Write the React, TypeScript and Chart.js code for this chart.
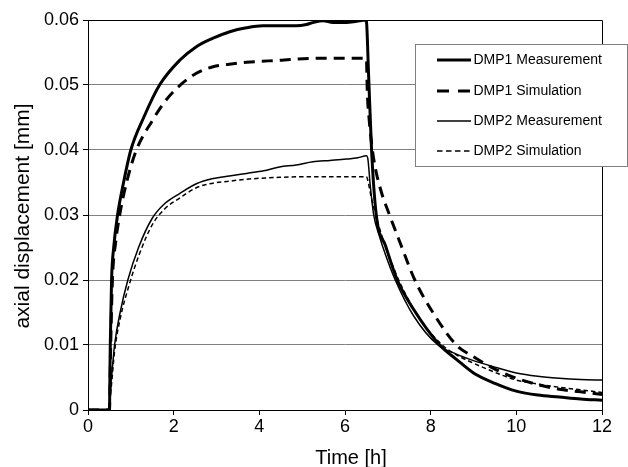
import React, { useEffect, useRef } from 'react';
import { Chart, registerables } from 'chart.js';

Chart.register(...registerables);

const FONT = "'Liberation Sans', Arial, Helvetica, sans-serif";

const seriesLabels = ['DMP1 Measurement', 'DMP1 Simulation', 'DMP2 Measurement', 'DMP2 Simulation'];

const dmp1MeasTime = [0, 0.5, 0.52, 0.55, 0.6, 0.69, 0.83, 1.0, 1.3, 1.67, 2.14, 2.53, 2.92, 3.31, 3.7, 4.08, 4.47, 4.86, 5.1, 5.25, 5.49, 5.72, 6.03, 6.27, 6.48, 6.5, 6.55, 6.62, 6.73, 6.95, 7.22, 7.6, 8.21, 8.6, 9.0, 9.5, 10, 10.5, 11, 11.5, 12];
const dmp1MeasValue = [0, 0, 0.01, 0.02, 0.025, 0.03, 0.035, 0.04, 0.045, 0.05, 0.0538, 0.0559, 0.0572, 0.0582, 0.0588, 0.0591, 0.0591, 0.0591, 0.0593, 0.0596, 0.0599, 0.0596, 0.0596, 0.0598, 0.06, 0.0598, 0.0517, 0.04, 0.03, 0.0252, 0.02, 0.0155, 0.01, 0.0078, 0.0057, 0.0041, 0.0029, 0.0023, 0.002, 0.0017, 0.0015];

const dmp1SimTime = [0, 0.5, 0.53, 0.57, 0.65, 0.74, 0.9, 1.13, 1.5, 1.8, 2.14, 2.53, 2.92, 3.3, 3.7, 4.47, 5.25, 6.0, 6.5, 6.52, 6.56, 6.62, 6.7, 6.85, 7.04, 7.3, 7.63, 8.1, 8.6, 9.0, 9.5, 10, 10.5, 11, 11.5, 12];
const dmp1SimValue = [0, 0, 0.01, 0.02, 0.026, 0.03, 0.035, 0.04, 0.0445, 0.0475, 0.0499, 0.0518, 0.0528, 0.0532, 0.0535, 0.0538, 0.0541, 0.0541, 0.0541, 0.049, 0.045, 0.041, 0.0375, 0.0335, 0.03, 0.0255, 0.02, 0.0145, 0.01, 0.0082, 0.0063, 0.0049, 0.0039, 0.0032, 0.0028, 0.0024];

const dmp2MeasTime = [0, 0.5, 0.52, 0.55, 0.62, 0.75, 0.93, 1.18, 1.5, 1.8, 2.14, 2.53, 2.92, 3.3, 3.7, 4.1, 4.47, 4.86, 5.25, 5.65, 6.03, 6.3, 6.5, 6.53, 6.59, 6.67, 6.8, 6.95, 7.16, 7.6, 8.17, 8.6, 9.0, 9.5, 10, 10.5, 11, 11.5, 12];
const dmp2MeasValue = [0, 0, 0.003, 0.005, 0.01, 0.015, 0.02, 0.025, 0.0295, 0.0318, 0.0333, 0.0348, 0.0356, 0.036, 0.0364, 0.0368, 0.0374, 0.0377, 0.0382, 0.0384, 0.0386, 0.0388, 0.0391, 0.0388, 0.0345, 0.03, 0.0268, 0.0238, 0.0202, 0.0145, 0.01, 0.0086, 0.0076, 0.0066, 0.0057, 0.0052, 0.0049, 0.0047, 0.0046];

const dmp2SimTime = [0, 0.5, 0.52, 0.55, 0.62, 0.75, 0.95, 1.2, 1.5, 1.8, 2.14, 2.53, 2.92, 3.3, 3.7, 4.47, 5.25, 6.0, 6.5, 6.53, 6.61, 6.72, 6.85, 7.0, 7.24, 7.7, 8.27, 8.6, 9.0, 9.5, 10, 10.5, 11, 11.5, 12];
const dmp2SimValue = [0, 0, 0.002, 0.004, 0.009, 0.014, 0.019, 0.024, 0.0285, 0.031, 0.0326, 0.0342, 0.0349, 0.0352, 0.0355, 0.0358, 0.0359, 0.0359, 0.0359, 0.0354, 0.0328, 0.03, 0.027, 0.0242, 0.0202, 0.0145, 0.01, 0.0085, 0.0072, 0.0058, 0.0046, 0.004, 0.0035, 0.0031, 0.0027];

const xTickLabels = ['0', '2', '4', '6', '8', '10', '12'];
const yTickLabels = ['0', '0.01', '0.02', '0.03', '0.04', '0.05', '0.06'];
const xAxisTitle = 'Time [h]';
const yAxisTitle = 'axial displacement [mm]';

const seriesStyles = [
  { width: 3, dash: [] as number[], legendDash: [] as number[] },
  { width: 3, dash: [11, 7], legendDash: [12, 9] },
  { width: 1.5, dash: [] as number[], legendDash: [] as number[] },
  { width: 1.5, dash: [4.5, 3], legendDash: [5.5, 3.5] },
];

const toPoints = (t: number[], v: number[]) => t.map((x, i) => ({ x, y: v[i] }));

const overlayPlugin = {
  id: 'overlay',
  afterDraw(chart: any) {
    const { ctx, chartArea: a } = chart;
    ctx.save();
    // frame top & right
    ctx.strokeStyle = '#000';
    ctx.lineWidth = 1;
    ctx.setLineDash([]);
    ctx.beginPath();
    ctx.moveTo(a.left, a.top + 0.5);
    ctx.lineTo(a.right + 0.5, a.top + 0.5);
    ctx.lineTo(a.right + 0.5, a.bottom);
    ctx.stroke();

    // axis titles
    ctx.fillStyle = '#000';
    ctx.font = `20px ${FONT}`;
    ctx.textAlign = 'center';
    ctx.textBaseline = 'alphabetic';
    ctx.fillText(xAxisTitle, (a.left + a.right) / 2 + 6, a.bottom + 54);
    ctx.save();
    ctx.translate(28.5, (a.top + a.bottom) / 2 + 1);
    ctx.rotate(-Math.PI / 2);
    ctx.font = `21px ${FONT}`;
    ctx.fillText(yAxisTitle, 0, 0);
    ctx.restore();

    // legend
    const lx = 415.5, ly = 44.5, lw = 212, lh = 122;
    ctx.fillStyle = '#fff';
    ctx.fillRect(lx, ly, lw, lh);
    ctx.strokeStyle = '#808080';
    ctx.lineWidth = 1;
    ctx.strokeRect(lx, ly, lw, lh);
    const rows = [60, 91, 121, 151];
    chart.data.datasets.forEach((ds: any, i: number) => {
      const y = rows[i];
      const st = seriesStyles[i];
      ctx.strokeStyle = '#000';
      ctx.lineWidth = st.width;
      ctx.setLineDash(st.legendDash);
      ctx.beginPath();
      ctx.moveTo(437, y);
      ctx.lineTo(471, y);
      ctx.stroke();
      ctx.setLineDash([]);
      ctx.fillStyle = '#000';
      ctx.font = `14px ${FONT}`;
      ctx.textAlign = 'left';
      ctx.textBaseline = 'middle';
      ctx.fillText(ds.label, 473.5, y);
    });
    ctx.restore();
  },
};

export default function App() {
  const canvasRef = useRef<HTMLCanvasElement | null>(null);

  useEffect(() => {
    const canvas = canvasRef.current;
    if (!canvas) return;
    const series = [
      toPoints(dmp1MeasTime, dmp1MeasValue),
      toPoints(dmp1SimTime, dmp1SimValue),
      toPoints(dmp2MeasTime, dmp2MeasValue),
      toPoints(dmp2SimTime, dmp2SimValue),
    ];
    const chart = new Chart(canvas, {
      type: 'line',
      data: {
        datasets: series.map((data, i) => ({
          label: seriesLabels[i],
          data,
          borderColor: '#000',
          backgroundColor: '#000',
          borderWidth: seriesStyles[i].width,
          borderDash: seriesStyles[i].dash,
          borderJoinStyle: 'round' as const,
          pointRadius: 0,
          pointHoverRadius: 0,
          fill: false,
          cubicInterpolationMode: 'monotone' as const,
        })),
      },
      options: {
        animation: false,
        responsive: false,
        maintainAspectRatio: false,
        events: [],
        layout: { padding: { left: 0, top: 20, right: 26, bottom: 0 } },
        plugins: {
          legend: { display: false },
          tooltip: { enabled: false },
          title: { display: false },
        },
        scales: {
          x: {
            type: 'linear',
            min: 0,
            max: 12,
            afterFit: (scale: any) => { scale.height = 57; },
            ticks: {
              stepSize: 2,
              color: '#000',
              padding: 1,
              maxRotation: 0,
              font: { family: FONT, size: 18 },
              callback: (_v: any, i: number) => xTickLabels[i],
            },
            grid: {
              drawOnChartArea: false,
              drawTicks: true,
              tickLength: 5,
              tickColor: '#000',
            },
            border: { display: true, color: '#000', width: 1 },
          },
          y: {
            type: 'linear',
            min: 0,
            max: 0.06,
            afterFit: (scale: any) => { scale.width = 88; },
            ticks: {
              stepSize: 0.01,
              color: '#000',
              padding: 4,
              font: { family: FONT, size: 18 },
              callback: (_v: any, i: number) => yTickLabels[i],
            },
            grid: {
              color: (c: any) => (c.index === 6 ? '#000' : '#808080'),
              lineWidth: 1,
              drawTicks: true,
              tickLength: 5,
              tickColor: '#000',
            },
            border: { display: true, color: '#000', width: 1 },
          },
        },
      },
      plugins: [overlayPlugin],
    });
    return () => chart.destroy();
  }, []);

  return (
    <div style={{ position: 'absolute', left: 0, top: 0, width: 628, height: 467, background: '#fff' }}>
      <canvas ref={canvasRef} width={628} height={467} style={{ display: 'block', width: 628, height: 467 }} />
    </div>
  );
}
